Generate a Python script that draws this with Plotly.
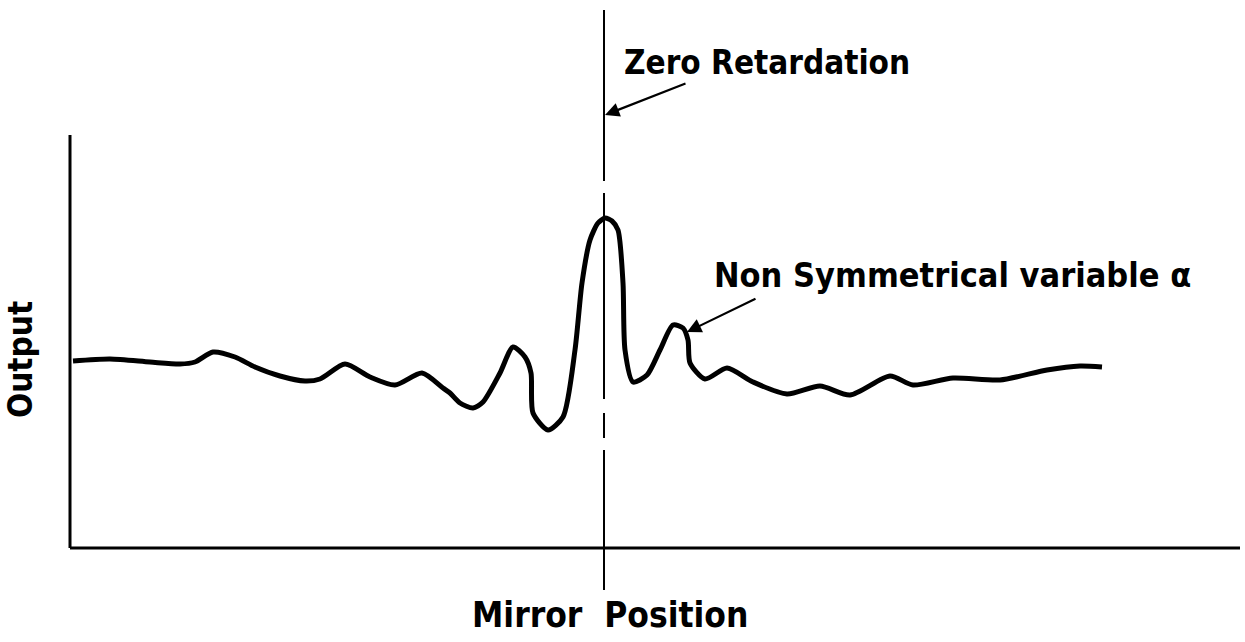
import plotly.graph_objects as go

# Mirror position (arbitrary units, 0 = zero retardation) and detector output (arbitrary units)
mirror_position = [-531, -494, -454, -424, -409, -391, -369, -349, -324, -299, -284, -259,
                   -234, -209, -182, -161, -154, -144, -131, -121, -104, -91, -79, -73,
                   -71, -56, -41, -29, -22, -14, -6, 1, 8, 14, 19, 21, 29, 43, 56, 69, 79, 84,
                   86, 101, 123, 149, 183, 216, 246, 286, 309, 349, 396, 443, 476, 498]
output = [187, 189, 186, 184, 186, 196, 191, 181, 172, 167, 169, 184,
          171, 163, 175, 160, 155, 145, 140, 146, 175, 201, 191, 175,
          135, 118, 131, 198, 265, 308, 325, 330, 327, 318, 265, 198, 166, 173, 198, 223, 220, 208,
          185, 169, 180, 166, 154, 162, 153, 172, 163, 170, 168, 178, 182, 181]

zero_retardation = 0
axis_x_extent = [-534, 636]
axis_y_extent = [0, 413]

FONT = "DejaVu Sans Condensed, Liberation Sans Narrow, sans-serif"

fig = go.Figure()
fig.add_trace(go.Scatter(x=mirror_position, y=output, mode="lines",
                         line=dict(color="black", width=5, shape="spline", smoothing=0.7),
                         hoverinfo="skip", showlegend=False))

# axes drawn as shapes
fig.add_shape(type="line", x0=axis_x_extent[0], x1=axis_x_extent[0], y0=axis_y_extent[0], y1=axis_y_extent[1],
              line=dict(color="black", width=3))
fig.add_shape(type="line", x0=axis_x_extent[0], x1=axis_x_extent[1], y0=0, y1=0,
              line=dict(color="black", width=3))
# zero retardation marker line
fig.add_shape(type="line", x0=zero_retardation, x1=zero_retardation, y0=-42, y1=538,
              line=dict(color="black", width=2, dash="140px,12px,25px,14px,206px,12px,175px"))

fig.add_annotation(x=18, y=486, text="<b>Zero Retardation</b>", showarrow=False, xanchor="left", yanchor="middle",
                   font=dict(family=FONT, size=33, color="black"))
fig.add_annotation(x=1, y=433, ax=83, ay=465, axref="x", ayref="y", text="", showarrow=True,
                   arrowhead=2, arrowsize=1.3, arrowwidth=2.2, arrowcolor="black")
fig.add_annotation(x=108, y=273, text="<b>Non Symmetrical variable α</b>", showarrow=False, xanchor="left",
                   yanchor="middle", font=dict(family=FONT, size=34, color="black"))
fig.add_annotation(x=83, y=216, ax=153, ay=250, axref="x", ayref="y", text="", showarrow=True,
                   arrowhead=2, arrowsize=1.3, arrowwidth=2.2, arrowcolor="black")
fig.add_annotation(x=6, y=-67, text="<b>Mirror  Position</b>", showarrow=False, xanchor="center", yanchor="middle",
                   font=dict(family=FONT, size=35, color="black"))
fig.add_annotation(x=-584, y=188, text="<b>Output</b>", showarrow=False, textangle=-90, xanchor="center",
                   yanchor="middle", font=dict(family=FONT, size=33, color="black"))

fig.update_layout(width=1245, height=642, margin=dict(l=0, r=0, t=0, b=0),
                  plot_bgcolor="white", paper_bgcolor="white",
                  xaxis=dict(range=[-604, 641], visible=False, fixedrange=True),
                  yaxis=dict(range=[-94, 548], visible=False, fixedrange=True))
fig.write_html("out.html", config={"displayModeBar": False},
               post_script="document.body.style.margin='0';document.body.style.overflow='hidden';")
